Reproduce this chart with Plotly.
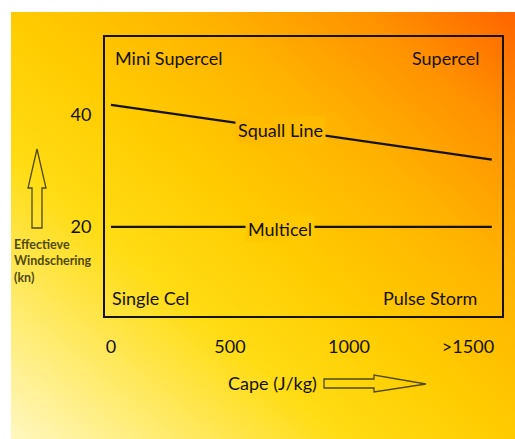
import numpy as np
import plotly.graph_objects as go

# ---------------- data ----------------
cape_ticks = [0, 500, 1000, 1500]
cape_tick_labels = ["0", "500", "1000", ">1500"]
shear_ticks = [20, 40]
shear_tick_labels = ["20", "40"]

squall_x = [0, 1600]
squall_y = [41.8, 32.0]
multicel_x = [0, 1600]
multicel_y = [20, 20]

W, H = 515, 439
FONT = "Lato"
TXT = "#141208"
OLIVE = "#4f4a08"
FS = 18

# ---------------- background gradient ----------------
grad_stops = [
    [0.00, "#fff7c0"],
    [0.15, "#ffec72"],
    [0.33, "#ffdc14"],
    [0.50, "#ffcb00"],
    [0.68, "#ffb400"],
    [0.85, "#ff9200"],
    [1.00, "#ff6400"],
]
n = 41
gx = np.linspace(0, 1, n)
gy = np.linspace(0, 1, n)
gz = (gx[None, :] + gy[:, None]) / 2.0

GX0, GY0 = 11, 12  # gradient area starts here (pixels)


def hex2rgb(h):
    h = h.lstrip("#")
    return [int(h[i:i + 2], 16) for i in (0, 2, 4)]


def grad_color(px, py):
    t = ((px - GX0) / (W - GX0) + (H - py) / (H - GY0)) / 2
    for (a, ca), (b, cb) in zip(grad_stops[:-1], grad_stops[1:]):
        if a <= t <= b:
            f = (t - a) / (b - a)
            c1, c2 = hex2rgb(ca), hex2rgb(cb)
            c = [round(c1[k] + (c2[k] - c1[k]) * f) for k in range(3)]
            return "rgb(%d,%d,%d)" % tuple(c)
    return grad_stops[-1][1]


def fx(p):
    return p / W


def fy(p):
    return 1 - p / H


fig = go.Figure()
fig.add_trace(go.Heatmap(
    x=gx, y=gy, z=gz, colorscale=grad_stops, zmin=0, zmax=1,
    zsmooth="best", showscale=False, hoverinfo="skip",
    xaxis="x", yaxis="y"))

line_style = dict(color="#151208", width=2.2)
fig.add_trace(go.Scatter(x=squall_x, y=squall_y, mode="lines", line=line_style,
                         xaxis="x2", yaxis="y2", hoverinfo="skip", showlegend=False))
fig.add_trace(go.Scatter(x=multicel_x, y=multicel_y, mode="lines", line=line_style,
                         xaxis="x2", yaxis="y2", hoverinfo="skip", showlegend=False))

# plot box pixels
BX0, BX1, BY0, BY1 = 105, 502, 37, 316

fig.update_layout(
    width=W, height=H,
    margin=dict(l=0, r=0, t=0, b=0),
    paper_bgcolor="white",
    plot_bgcolor="rgba(0,0,0,0)",
    showlegend=False,
    font=dict(family=FONT, color=TXT),
    xaxis=dict(domain=[fx(GX0), 1], range=[0, 1], visible=False, fixedrange=True),
    yaxis=dict(domain=[0, fy(GY0)], range=[0, 1], visible=False, fixedrange=True),
    xaxis2=dict(domain=[fx(BX0), fx(BX1)], anchor="y2", range=[-25, 1643],
                tickvals=cape_ticks, ticktext=cape_tick_labels,
                showgrid=False, zeroline=False, ticks="",
                showline=True, mirror=True, linecolor="#151208", linewidth=2,
                tickfont=dict(size=FS, family=FONT, color=TXT),
                ticklabelstandoff=13),
    yaxis2=dict(domain=[fy(BY1), fy(BY0)], anchor="x2", range=[4.1, 53.9],
                tickvals=shear_ticks, ticktext=shear_tick_labels,
                showgrid=False, zeroline=False, ticks="",
                showline=True, mirror=True, linecolor="#151208", linewidth=2,
                tickfont=dict(size=FS, family=FONT, color=TXT),
                ticklabelstandoff=8),
)

# line labels (on the line, masking it)
sq_x = 714
sq_y = squall_y[0] + (squall_y[1] - squall_y[0]) * sq_x / squall_x[1]
fig.add_annotation(x=sq_x, y=sq_y, xref="x2", yref="y2", text="Squall Line",
                   showarrow=False, font=dict(size=FS, family=FONT, color=TXT),
                   bgcolor=grad_color(281, 131), borderpad=2, yshift=-1)
fig.add_annotation(x=710, y=multicel_y[0], xref="x2", yref="y2", text="Multicel",
                   showarrow=False, font=dict(size=FS, family=FONT, color=TXT),
                   bgcolor=grad_color(280, 228), borderpad=2, yshift=-2)

# corner labels
corner = dict(showarrow=False, font=dict(size=FS, family=FONT, color=TXT),
              xref="paper", yref="paper")
fig.add_annotation(x=fx(113), y=fy(58), text="Mini Supercel", xanchor="left", yanchor="middle", **corner)
fig.add_annotation(x=fx(482), y=fy(58), text="Supercel", xanchor="right", yanchor="middle", **corner)
fig.add_annotation(x=fx(110), y=fy(298), text="Single Cel", xanchor="left", yanchor="middle", **corner)
fig.add_annotation(x=fx(479), y=fy(298), text="Pulse Storm", xanchor="right", yanchor="middle", **corner)

# axis titles
fig.add_annotation(x=fx(272), y=fy(383), text="Cape (J/kg)", xanchor="center", yanchor="middle",
                   showarrow=False, xref="paper", yref="paper",
                   font=dict(size=FS, family=FONT, color=TXT))
fig.add_annotation(x=fx(12), y=fy(261), text="Effectieve<br>Windschering<br>(kn)",
                   xanchor="left", yanchor="middle", align="left",
                   showarrow=False, xref="paper", yref="paper",
                   font=dict(size=12.5, family=FONT, color=OLIVE, weight="bold"))


def arrow_path(pts):
    return "M " + " L ".join("%.5f,%.5f" % (fx(a), fy(b)) for a, b in pts) + " Z"


up_arrow = [(32, 228), (32, 188), (28, 188), (37, 149), (46, 188), (42, 188), (42, 228)]
right_arrow = [(324, 379), (374, 379), (374, 375), (426, 384), (374, 392), (374, 388), (324, 388)]
for pts in (up_arrow, right_arrow):
    fig.add_shape(type="path", path=arrow_path(pts), xref="paper", yref="paper",
                  line=dict(color=OLIVE, width=1.3), fillcolor="rgba(0,0,0,0)")

fig.write_html("out.html", config={"displayModeBar": False},
               post_script="document.body.style.margin='0';")
